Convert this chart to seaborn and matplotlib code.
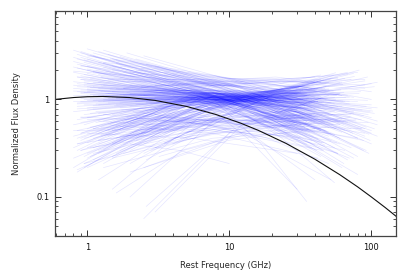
import matplotlib
matplotlib.use("Agg")
import matplotlib.pyplot as plt
import numpy as np
import pandas as pd
import seaborn as sns
from matplotlib.ticker import LogLocator, NullFormatter, FixedLocator, FixedFormatter

# ---- data ------------------------------------------------------------------
# each spectrum: (start GHz, end GHz, flux at start, flux at middle, flux at end)
flat_spectra = [
    (0.85, 32, 1.20, 1.02, 0.85), (0.9, 35, 0.95, 1.05, 1.10), (1.0, 40, 1.35, 1.08, 0.78),
    (0.8, 30, 0.75, 0.98, 1.05), (1.1, 45, 1.10, 0.95, 0.70), (1.2, 48, 0.88, 1.10, 1.25),
    (0.95, 38, 1.55, 1.15, 0.80), (1.3, 52, 1.00, 1.00, 0.92), (1.5, 60, 0.70, 0.95, 1.15),
    (0.85, 33, 1.05, 1.12, 1.00), (2.0, 75, 1.25, 1.05, 0.75), (1.7, 65, 0.92, 1.08, 0.95),
    (0.9, 36, 0.65, 0.90, 1.02), (1.0, 42, 1.45, 1.20, 0.95), (2.3, 85, 1.10, 0.98, 0.62),
    (1.1, 40, 0.80, 1.02, 1.30), (0.8, 28, 1.30, 1.06, 0.88), (1.4, 55, 1.15, 1.18, 1.05),
    (2.6, 95, 0.95, 1.05, 0.70), (1.0, 38, 0.98, 0.92, 0.82), (0.9, 34, 1.60, 1.22, 0.98),
    (1.2, 46, 0.72, 0.88, 0.95), (3.0, 100, 1.05, 1.10, 0.80), (1.6, 62, 1.30, 1.12, 0.85),
    (0.85, 31, 0.85, 1.00, 1.18), (1.05, 41, 1.12, 1.15, 1.20), (2.0, 70, 0.85, 1.00, 1.05),
    (1.3, 50, 1.40, 1.10, 0.72), (0.95, 37, 1.00, 1.05, 1.12), (1.8, 68, 1.10, 1.20, 1.10),
    (0.8, 30, 1.10, 0.96, 0.78), (1.15, 44, 0.90, 1.05, 1.08), (2.4, 88, 1.35, 1.08, 0.68),
    (1.0, 40, 0.78, 0.95, 1.22), (0.9, 35, 1.25, 1.15, 0.92), (1.5, 58, 1.05, 0.98, 0.85),
    (2.8, 100, 0.90, 1.02, 0.88), (1.25, 48, 1.20, 1.25, 1.15), (0.85, 33, 0.92, 1.08, 1.25),
    (1.1, 43, 1.50, 1.18, 0.82), (2.1, 80, 1.00, 1.10, 0.95), (0.95, 36, 0.70, 0.92, 1.08),
    (1.35, 52, 1.15, 1.02, 0.75), (1.7, 64, 0.82, 0.98, 1.18), (0.8, 29, 1.40, 1.12, 0.90),
    (1.0, 39, 1.08, 1.00, 0.98), (3.2, 105, 1.10, 1.02, 0.72), (1.2, 47, 0.95, 1.12, 1.30),
    (0.9, 34, 1.18, 1.05, 0.86), (1.45, 56, 1.28, 1.22, 1.00), (2.2, 82, 0.88, 1.05, 1.15),
    (1.05, 40, 1.32, 1.06, 0.80), (0.85, 32, 0.80, 0.95, 1.00), (1.6, 60, 1.02, 1.10, 1.12),
    (2.5, 92, 1.20, 1.12, 0.85), (1.1, 42, 0.86, 0.98, 0.95), (0.95, 37, 1.48, 1.20, 0.90),
    (1.3, 50, 1.05, 1.15, 1.28), (2.0, 72, 1.12, 0.95, 0.66), (0.8, 30, 0.95, 1.02, 1.10),
    (1.2, 45, 1.22, 1.08, 0.92), (1.75, 66, 0.78, 0.95, 1.05), (0.9, 35, 1.08, 1.14, 1.15),
    (2.7, 98, 1.00, 0.98, 0.75), (1.0, 41, 1.25, 1.02, 0.78), (1.4, 54, 0.92, 1.08, 1.22),
    (0.85, 33, 1.35, 1.18, 1.00), (1.15, 44, 0.75, 0.92, 1.02), (1.9, 70, 1.18, 1.15, 0.95),
    (1.05, 40, 1.02, 1.06, 1.05), (3.5, 110, 0.95, 1.05, 0.82), (0.9, 36, 1.15, 0.98, 0.80),
    (1.25, 49, 1.38, 1.15, 0.86), (1.55, 59, 0.86, 1.02, 1.12), (0.8, 31, 1.22, 1.10, 0.96),
    (1.1, 42, 0.98, 1.12, 1.18), (2.3, 86, 1.05, 1.00, 0.78), (0.95, 38, 0.88, 0.96, 0.92),
    (1.35, 51, 1.10, 1.20, 1.24), (1.8, 67, 1.30, 1.08, 0.74), (1.0, 39, 0.82, 1.02, 1.15),
    (0.85, 32, 1.45, 1.10, 0.82), (2.6, 94, 0.92, 1.08, 0.98), (1.2, 46, 1.10, 1.05, 0.88),
    (1.5, 57, 1.20, 1.25, 1.10), (0.9, 34, 1.02, 0.94, 0.86), (1.05, 41, 0.72, 0.96, 1.18),
    (2.0, 76, 1.40, 1.18, 0.80), (1.3, 49, 0.96, 1.00, 1.02), (0.8, 30, 1.52, 1.16, 0.85),
    (1.15, 43, 1.06, 1.14, 1.10), (3.0, 102, 1.25, 1.08, 0.76), (1.6, 61, 0.88, 1.06, 1.25),
    (0.95, 37, 1.18, 1.06, 0.92), (1.4, 53, 1.02, 0.92, 0.80), (2.2, 84, 0.95, 1.12, 1.20),
    (1.0, 40, 1.28, 1.12, 0.90), (0.85, 34, 0.90, 1.04, 1.08), (1.7, 63, 1.12, 1.10, 0.96),
    (1.1, 44, 1.36, 1.14, 0.84),
]

steep_spectra = [
    (0.85, 32, 2.60, 1.30, 0.55), (0.9, 35, 3.00, 1.40, 0.60), (1.0, 40, 2.20, 1.20, 0.50),
    (0.8, 30, 1.90, 1.15, 0.62), (1.1, 44, 2.80, 1.35, 0.48), (1.2, 47, 2.40, 1.25, 0.58),
    (0.95, 37, 1.80, 1.10, 0.55), (1.3, 50, 3.20, 1.45, 0.52), (1.5, 58, 2.00, 1.18, 0.60),
    (0.85, 33, 2.30, 1.22, 0.65), (2.0, 74, 2.50, 1.30, 0.45), (1.7, 64, 1.70, 1.08, 0.56),
    (0.9, 36, 2.70, 1.28, 0.50), (1.0, 41, 3.30, 1.50, 0.62), (2.4, 90, 2.10, 1.15, 0.42),
    (1.1, 42, 1.95, 1.12, 0.66), (0.8, 29, 2.45, 1.26, 0.58), (1.4, 54, 2.90, 1.38, 0.55),
    (2.8, 100, 1.85, 1.10, 0.48), (1.0, 38, 2.05, 1.18, 0.70), (0.9, 34, 1.75, 1.05, 0.52),
    (1.2, 46, 3.10, 1.42, 0.60), (3.0, 105, 2.20, 1.20, 0.50), (1.6, 62, 2.35, 1.22, 0.46),
    (0.85, 31, 2.90, 1.32, 0.62), (1.05, 40, 1.65, 1.06, 0.60), (2.2, 80, 2.60, 1.25, 0.40),
    (1.3, 51, 2.15, 1.16, 0.54), (0.95, 38, 2.55, 1.30, 0.68), (1.8, 68, 1.90, 1.14, 0.58),
    (0.8, 30, 3.20, 1.40, 0.56), (1.15, 44, 2.00, 1.12, 0.50), (2.5, 92, 2.80, 1.35, 0.52),
    (1.0, 39, 1.85, 1.10, 0.64), (0.9, 35, 2.25, 1.20, 0.60), (1.45, 56, 2.65, 1.28, 0.50),
    (3.5, 110, 1.90, 1.15, 0.55), (1.25, 48, 1.70, 1.02, 0.48), (0.85, 33, 2.10, 1.18, 0.72),
    (1.1, 43, 3.00, 1.40, 0.55), (2.0, 78, 1.75, 1.10, 0.60), (0.95, 36, 2.40, 1.24, 0.54),
    (1.35, 52, 1.95, 1.14, 0.62), (1.7, 65, 2.75, 1.32, 0.48), (0.8, 29, 2.15, 1.15, 0.66),
    (1.0, 40, 2.60, 1.28, 0.58), (2.6, 96, 2.30, 1.22, 0.44), (1.2, 45, 1.80, 1.08, 0.56),
    (0.9, 34, 3.10, 1.38, 0.64), (1.5, 57, 2.20, 1.18, 0.52), (2.3, 86, 2.00, 1.16, 0.50),
    (1.05, 41, 2.85, 1.34, 0.60), (0.85, 32, 1.70, 1.04, 0.58), (1.6, 60, 2.50, 1.26, 0.56),
    (1.3, 50, 2.35, 1.20, 0.46), (4.0, 110, 1.80, 1.20, 0.60), (5.0, 100, 1.60, 1.15, 0.65),
    (1.9, 72, 3.00, 1.36, 0.50), (1.0, 38, 2.00, 1.12, 0.62), (0.8, 31, 2.70, 1.30, 0.60),
]

inverted_spectra = [
    (0.85, 33, 0.35, 0.80, 1.40), (0.9, 35, 0.45, 0.88, 1.30), (1.0, 40, 0.28, 0.75, 1.55),
    (0.8, 30, 0.55, 0.92, 1.25), (1.1, 44, 0.40, 0.85, 1.60), (1.2, 48, 0.30, 0.82, 1.45),
    (1.5, 58, 0.50, 0.95, 1.70), (0.95, 37, 0.22, 0.70, 1.35), (1.3, 50, 0.60, 1.00, 1.50),
    (2.0, 75, 0.45, 0.98, 1.85), (1.7, 65, 0.38, 0.90, 1.65), (0.85, 32, 0.48, 0.86, 1.20),
    (1.0, 39, 0.65, 1.02, 1.40), (2.4, 90, 0.55, 1.05, 1.55), (1.1, 42, 0.32, 0.78, 1.30),
    (0.8, 29, 0.25, 0.72, 1.15), (1.4, 54, 0.42, 0.90, 1.75), (2.8, 100, 0.50, 1.00, 1.45),
    (0.9, 34, 0.58, 0.94, 1.38), (1.2, 46, 0.35, 0.84, 1.58), (3.0, 105, 0.62, 1.08, 1.35),
    (1.6, 62, 0.28, 0.80, 1.50), (1.05, 40, 0.52, 0.92, 1.48), (2.2, 82, 0.40, 0.96, 2.00),
    (0.95, 38, 0.40, 0.82, 1.28), (1.8, 68, 0.55, 1.04, 1.90), (1.0, 41, 0.20, 0.68, 1.25),
    (1.35, 52, 0.48, 0.96, 1.62), (0.85, 31, 0.62, 0.98, 1.32), (2.5, 94, 0.35, 0.92, 1.70),
    (1.15, 44, 0.58, 1.02, 1.78), (0.9, 36, 0.30, 0.76, 1.42), (1.9, 72, 0.66, 1.10, 1.60),
    (1.25, 48, 0.44, 0.88, 1.36), (3.5, 110, 0.45, 0.95, 1.50), (1.5, 56, 0.36, 0.86, 1.88),
    (0.8, 30, 0.42, 0.84, 1.30), (1.05, 42, 0.26, 0.74, 1.52), (2.0, 76, 0.58, 1.06, 1.72),
    (1.7, 63, 0.50, 1.00, 1.42),
]

peaked_spectra = [
    (0.85, 32, 0.30, 1.10, 0.40), (0.9, 35, 0.40, 1.15, 0.35), (1.0, 40, 0.25, 1.05, 0.45),
    (1.2, 46, 0.45, 1.20, 0.30), (1.5, 58, 0.35, 1.08, 0.28), (0.8, 30, 0.20, 0.95, 0.50),
    (1.1, 43, 0.50, 1.18, 0.38), (2.0, 75, 0.30, 1.02, 0.25), (1.3, 50, 0.22, 0.98, 0.42),
    (0.95, 37, 0.55, 1.22, 0.45), (1.7, 64, 0.42, 1.12, 0.22), (2.5, 92, 0.28, 1.00, 0.30),
    (1.0, 38, 0.36, 1.08, 0.55), (0.85, 33, 0.18, 0.88, 0.48), (1.4, 55, 0.48, 1.16, 0.32),
    (3.0, 100, 0.32, 1.05, 0.35), (1.2, 45, 0.28, 1.00, 0.36), (0.9, 34, 0.45, 1.12, 0.52),
    (2.2, 80, 0.38, 1.10, 0.26), (1.1, 42, 0.24, 0.92, 0.40), (1.6, 60, 0.55, 1.20, 0.40),
    (0.8, 29, 0.32, 1.00, 0.58), (1.05, 41, 0.42, 1.14, 0.30), (2.8, 98, 0.40, 1.12, 0.38),
    (1.3, 49, 0.30, 1.02, 0.46), (0.95, 36, 0.26, 0.96, 0.50), (1.8, 68, 0.34, 1.06, 0.24),
    (1.25, 47, 0.52, 1.18, 0.34), (2.0, 72, 0.22, 0.94, 0.32), (0.9, 35, 0.38, 1.06, 0.44),
    (1.15, 44, 0.46, 1.10, 0.26), (3.5, 110, 0.36, 1.08, 0.42), (1.5, 57, 0.26, 0.98, 0.36),
    (1.0, 39, 0.50, 1.15, 0.42), (2.4, 88, 0.46, 1.14, 0.30), (0.85, 32, 0.40, 1.04, 0.56),
    (1.7, 62, 0.30, 0.98, 0.20), (1.2, 47, 0.38, 1.08, 0.48), (2.6, 96, 0.24, 0.96, 0.28),
    (1.35, 52, 0.44, 1.12, 0.38), (4.0, 100, 0.35, 1.10, 0.45), (5.0, 90, 0.45, 1.15, 0.50),
    (1.0, 40, 0.32, 1.04, 0.34), (1.45, 55, 0.56, 1.24, 0.44), (0.95, 38, 0.20, 0.90, 0.38),
]

faint_spectra = [
    (0.9, 34, 0.30, 0.55, 0.70), (1.2, 45, 0.60, 0.50, 0.30), (1.5, 40, 0.25, 0.45, 0.50),
    (2.0, 60, 0.40, 0.62, 0.55), (1.0, 30, 0.45, 0.40, 0.28), (2.5, 70, 0.20, 0.48, 0.65),
    (3.0, 80, 0.50, 0.60, 0.40), (1.3, 38, 0.70, 0.55, 0.32), (0.85, 28, 0.35, 0.52, 0.60),
    (1.8, 55, 0.28, 0.58, 0.75), (4.0, 90, 0.55, 0.65, 0.45), (1.1, 36, 0.50, 0.62, 0.48),
    (2.2, 65, 0.65, 0.52, 0.30), (0.95, 30, 0.22, 0.42, 0.58), (1.6, 50, 0.40, 0.68, 0.62),
    (3.5, 85, 0.35, 0.55, 0.50), (1.4, 42, 0.55, 0.45, 0.25), (2.8, 75, 0.30, 0.60, 0.72),
    (1.0, 33, 0.62, 0.66, 0.50), (2.0, 48, 0.18, 0.38, 0.52), (5.0, 60, 0.60, 0.55, 0.35),
    (1.2, 40, 0.38, 0.58, 0.66), (0.8, 26, 0.48, 0.50, 0.42), (2.4, 66, 0.45, 0.70, 0.60),
    (1.7, 46, 0.70, 0.60, 0.36), (3.2, 78, 0.26, 0.50, 0.62), (1.05, 35, 0.32, 0.48, 0.56),
    (1.9, 52, 0.58, 0.64, 0.44), (6.0, 70, 0.70, 0.50, 0.25), (1.3, 44, 0.20, 0.40, 0.48),
    (2.6, 72, 0.52, 0.68, 0.70), (0.9, 31, 0.66, 0.58, 0.40), (4.5, 95, 0.40, 0.62, 0.58),
    (1.5, 48, 0.48, 0.70, 0.78), (2.1, 58, 0.75, 0.56, 0.28), (1.1, 37, 0.28, 0.50, 0.68),
    (3.8, 88, 0.62, 0.60, 0.38), (1.25, 40, 0.42, 0.62, 0.72), (7.0, 50, 0.55, 0.40, 0.22),
    (2.3, 62, 0.34, 0.56, 0.64),
]

bright_spectra = [
    (0.9, 35, 2.20, 1.60, 1.10), (1.2, 45, 1.50, 1.55, 1.30), (2.0, 70, 1.90, 1.50, 0.90),
    (1.0, 40, 1.20, 1.45, 1.70), (1.5, 55, 2.60, 1.70, 0.90), (3.0, 90, 1.40, 1.60, 1.40),
    (0.85, 32, 1.70, 1.50, 1.20), (2.5, 80, 1.10, 1.45, 1.90), (1.3, 48, 2.40, 1.75, 1.00),
    (1.8, 60, 1.30, 1.55, 1.50), (1.1, 42, 1.90, 1.50, 0.95), (4.0, 100, 1.60, 1.65, 1.20),
    (0.95, 36, 1.40, 1.40, 1.35), (2.2, 75, 2.00, 1.60, 1.05), (1.6, 58, 1.05, 1.42, 1.65),
    (1.0, 38, 2.80, 1.80, 1.00), (2.8, 90, 1.25, 1.50, 1.60), (1.4, 50, 1.60, 1.60, 1.25),
    (0.8, 30, 1.95, 1.55, 1.15), (3.5, 100, 1.80, 1.55, 1.00), (1.2, 44, 1.30, 1.45, 1.50),
    (2.0, 68, 1.15, 1.50, 1.80), (1.7, 62, 2.20, 1.65, 1.10), (5.0, 90, 1.50, 1.70, 1.30),
    (0.9, 33, 1.60, 1.45, 1.25),
]

outlier_spectra = [
    (2.5, 40, 0.06, 0.45, 0.95), (3.0, 50, 0.07, 0.55, 1.10), (2.0, 30, 0.10, 0.60, 0.80),
    (1.5, 25, 0.12, 0.65, 1.00), (2.6, 45, 0.08, 0.50, 1.05), (1.2, 20, 0.15, 0.55, 0.90),
    (1.6, 14, 0.11, 0.30, 0.45), (0.85, 12, 0.19, 0.45, 0.70), (8.0, 35, 0.95, 0.35, 0.09),
    (6.0, 30, 1.00, 0.40, 0.12), (4.0, 40, 1.10, 0.50, 0.15), (10.0, 55, 0.90, 0.40, 0.14),
    (5.0, 80, 1.05, 0.55, 0.17), (3.0, 52, 0.70, 0.45, 0.15), (2.0, 10, 0.35, 0.30, 0.22),
]

curve_freq = [0.59, 0.8, 1.0, 1.3, 2, 3, 5, 8, 12, 16, 25, 40, 60, 80, 100, 125, 150]
curve_flux = [1.00, 1.046, 1.066, 1.073, 1.045, 0.978, 0.848, 0.703, 0.572, 0.482,
              0.355, 0.244, 0.169, 0.127, 0.100, 0.078, 0.063]

x_ticks = [1, 10, 100]
x_tick_labels = ["1", "10", "100"]
y_ticks = [0.1, 1]
y_tick_labels = ["0.1", "1"]

# ---- build long-form table ---------------------------------------------------
rows = []
sid = 0
for group in (flat_spectra, steep_spectra, inverted_spectra, peaked_spectra,
              faint_spectra, bright_spectra, outlier_spectra):
    for lo, hi, s_lo, s_mid, s_hi in group:
        mid = (lo * hi) ** 0.5
        rows += [(sid, lo, s_lo), (sid, mid, s_mid), (sid, hi, s_hi)]
        sid += 1
spectra = pd.DataFrame(rows, columns=["source", "freq", "flux"])

# ---- plot ---------------------------------------------------------------------
sns.set_style("ticks")
plt.rcParams["font.family"] = ["DejaVu Sans"]

fig = plt.figure(figsize=(4.15, 2.71), dpi=100)
ax = fig.add_axes([55 / 415, 1 - 236 / 271, (396 - 55) / 415, (236 - 11) / 271])
ax.set_xscale("log")
ax.set_yscale("log")

sns.lineplot(data=spectra, x="freq", y="flux", units="source", estimator=None,
             color="#0000ff", alpha=0.1, linewidth=0.5, sort=False, legend=False, ax=ax)
sns.lineplot(x=curve_freq, y=curve_flux, color="#111111", linewidth=0.8, sort=False, ax=ax)

ax.set_xlim(0.593, 149)
ax.set_ylim(0.0398, 8.07)

ax.xaxis.set_major_locator(FixedLocator(x_ticks))
ax.xaxis.set_major_formatter(FixedFormatter(x_tick_labels))
ax.yaxis.set_major_locator(FixedLocator(y_ticks))
ax.yaxis.set_major_formatter(FixedFormatter(y_tick_labels))
ax.xaxis.set_minor_locator(LogLocator(base=10, subs=np.arange(2, 10)))
ax.yaxis.set_minor_locator(LogLocator(base=10, subs=np.arange(2, 10)))
ax.xaxis.set_minor_formatter(NullFormatter())
ax.yaxis.set_minor_formatter(NullFormatter())

ax.tick_params(which="both", direction="in", top=True, right=True, color="#333333",
               labelsize=6, labelcolor="#111111")
ax.tick_params(which="major", length=4, width=0.7)
ax.tick_params(which="minor", length=2.5, width=0.6)
ax.tick_params(axis="x", pad=5)
ax.tick_params(axis="y", pad=4)

for s in ax.spines.values():
    s.set_color("#444444")
    s.set_linewidth(0.9)

ax.set_xlabel("Rest Frequency (GHz)", fontsize=6, labelpad=6.5)
ax.set_ylabel("Normalized Flux Density", fontsize=6, labelpad=11)

fig.savefig("out.png", dpi=100)
